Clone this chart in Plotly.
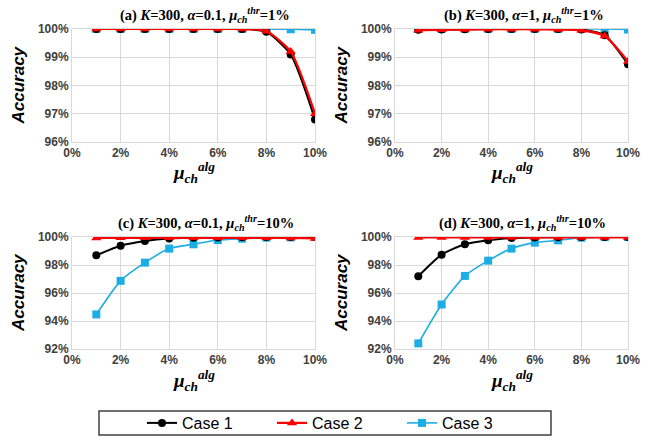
import plotly.graph_objects as go

W, H = 645, 439

x_vals = [1, 2, 3, 4, 5, 6, 7, 8, 9, 10]
series_names = ["Case 1", "Case 2", "Case 3"]

# panel (a) K=300, alpha=0.1, thr=1%
a_case1 = [100, 100, 100, 100, 100, 100, 100, 99.9, 99.1, 96.8]
a_case2 = [100, 100, 100, 100, 100, 100, 100, 99.92, 99.2, 97.0]
a_case3 = [100, 100, 100, 100, 100, 100, 100, 100, 99.99, 99.97]
# panel (b) K=300, alpha=1, thr=1%
b_case1 = [99.97, 99.98, 99.99, 100, 100, 100, 100, 99.98, 99.78, 98.75]
b_case2 = [99.96, 99.97, 99.98, 99.99, 99.99, 99.99, 99.98, 99.96, 99.75, 98.85]
b_case3 = [100, 100, 100, 100, 100, 100, 100, 100, 100, 99.98]
# panel (c) K=300, alpha=0.1, thr=10%
c_case1 = [98.7, 99.38, 99.72, 99.9, 99.95, 99.97, 99.99, 100, 100, 100]
c_case2 = [99.93, 99.94, 99.94, 99.94, 99.94, 99.94, 99.94, 99.94, 99.93, 99.9]
c_case3 = [94.47, 96.87, 98.17, 99.17, 99.48, 99.78, 99.88, 99.95, 99.97, 100]
# panel (d) K=300, alpha=1, thr=10%
d_case1 = [97.2, 98.74, 99.48, 99.76, 99.93, 99.97, 99.99, 100, 100, 100]
d_case2 = [99.97, 99.97, 99.97, 99.97, 99.97, 99.97, 99.97, 99.97, 99.97, 99.97]
d_case3 = [92.4, 95.18, 97.22, 98.31, 99.17, 99.6, 99.76, 99.95, 99.99, 100]

titles = [
    "<b>(a) <i>K</i>=300, <i>α</i>=0.1, <i>μ</i><sub><i>ch</i></sub><sup><i>thr</i></sup>=1%</b>",
    "<b>(b) <i>K</i>=300, <i>α</i>=1, <i>μ</i><sub><i>ch</i></sub><sup><i>thr</i></sup>=1%</b>",
    "<b>(c) <i>K</i>=300, <i>α</i>=0.1, <i>μ</i><sub><i>ch</i></sub><sup><i>thr</i></sup>=10%</b>",
    "<b>(d) <i>K</i>=300, <i>α</i>=1, <i>μ</i><sub><i>ch</i></sub><sup><i>thr</i></sup>=10%</b>",
]
title_centers = [205, 524, 206, 522]
y_ranges = [[96, 100], [96, 100], [92, 100], [92, 100]]
y_dticks = [1, 1, 2, 2]
x_ticks = [0, 2, 4, 6, 8, 10]

panels = [
    (a_case1, a_case2, a_case3),
    (b_case1, b_case2, b_case3),
    (c_case1, c_case2, c_case3),
    (d_case1, d_case2, d_case3),
]

# pixel boxes of plot areas: (x0, x1, ytop, ybottom)
boxes = [(72, 315, 29, 142), (395, 628, 29, 142), (72, 315, 237, 349), (395, 628, 237, 349)]

colors = ["#000000", "#FF0000", "#1CADE4"]
symbols = ["circle", "triangle-up", "square"]
msizes = [8, 9, 8]
lwidths = [2, 2.2, 1.6]

tick_font = dict(family="Arial, Liberation Sans", size=12, color="#404040")

fig = go.Figure()

for i, (series, box) in enumerate(zip(panels, boxes)):
    ax = "" if i == 0 else str(i + 1)
    # draw order: Case 3, Case 1, Case 2 (red on top)
    for k in [2, 0, 1]:
        fig.add_trace(go.Scatter(
            x=x_vals, y=series[k], mode="lines+markers",
            line=dict(color=colors[k], width=lwidths[k], shape="spline", smoothing=0.6),
            marker=dict(color=colors[k], symbol=symbols[k], size=msizes[k]),
            name=series_names[k], legendrank=k + 1,
            showlegend=(i == 0), xaxis="x" + ax, yaxis="y" + ax,
        ))
    x0, x1, yt, yb = box
    fig.layout["xaxis" + ax] = dict(
        domain=[x0 / W, x1 / W], anchor="y" + ax, range=[0, 10],
        tickvals=x_ticks, ticktext=[f"<b>{v}%</b>" for v in x_ticks],
        showgrid=True, gridcolor="#D9D9D9", gridwidth=1,
        showline=True, linecolor="#D9D9D9", linewidth=1, mirror=True,
        zeroline=False, ticks="", ticklen=0, automargin=False,
        ticklabeloverflow="allow",
        tickfont=tick_font, fixedrange=True,
    )
    lo, hi = y_ranges[i]
    yv = list(range(lo, hi + 1, y_dticks[i]))
    fig.layout["yaxis" + ax] = dict(
        domain=[1 - yb / H, 1 - yt / H], anchor="x" + ax, range=[lo, hi],
        tickvals=yv, ticktext=[f"<b>{v}%</b>" for v in yv],
        showgrid=True, gridcolor="#D9D9D9", gridwidth=1,
        showline=True, linecolor="#D9D9D9", linewidth=1, mirror=True,
        zeroline=False, ticks="", ticklen=0, automargin=False,
        ticklabeloverflow="allow",
        tickfont=tick_font, fixedrange=True,
    )
    xc = (x0 + x1) / 2
    # panel title
    fig.add_annotation(text=titles[i], x=title_centers[i] / W, y=1 - (yt - 14) / H,
                       xref="paper", yref="paper", showarrow=False,
                       xanchor="center", yanchor="middle",
                       font=dict(family="Liberation Serif, DejaVu Serif", size=14.5, color="#000000"))
    # y axis title
    fig.add_annotation(text="<b><i>Accuracy</i></b>", x=(x0 - 54) / W, y=1 - ((yt + yb) / 2) / H,
                       xref="paper", yref="paper", showarrow=False, textangle=-90,
                       xanchor="center", yanchor="middle",
                       font=dict(family="Arial, Liberation Sans", size=17, color="#000000"))
    # x axis title
    fig.add_annotation(text="<b><i>μ</i></b><sub><b><i>ch</i></b></sub><sup><b><i>alg</i></b></sup>",
                       x=xc / W, y=1 - (yb + 31) / H,
                       xref="paper", yref="paper", showarrow=False,
                       xanchor="center", yanchor="middle",
                       font=dict(family="Liberation Serif, DejaVu Serif", size=19, color="#000000"))

# legend frame
fig.add_shape(type="rect", xref="paper", yref="paper",
              x0=99 / W, x1=551 / W, y0=1 - 435 / H, y1=1 - 411 / H,
              line=dict(color="#404040", width=1.5), fillcolor="rgba(0,0,0,0)")

fig.update_layout(
    width=W, height=H,
    margin=dict(l=0, r=0, t=0, b=0, autoexpand=False),
    paper_bgcolor="white", plot_bgcolor="white",
    showlegend=True,
    legend=dict(orientation="h", x=142 / W, y=1 - 423 / H, xanchor="left", yanchor="middle",
                entrywidth=85, entrywidthmode="pixels", itemwidth=30,
                bgcolor="rgba(0,0,0,0)", borderwidth=0,
                font=dict(family="Arial, Liberation Sans", size=16, color="#000000"),
                traceorder="normal"),
)

fig.write_html("out.html")
